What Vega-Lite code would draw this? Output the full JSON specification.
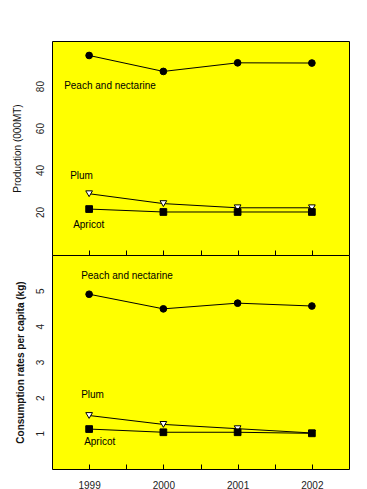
{
  "$schema": "https://vega.github.io/schema/vega-lite/v6.json",
  "autosize": {"type": "pad"},
  "padding": {"left": 11, "top": 40, "right": 18, "bottom": 0},
  "background": "white",
  "spacing": 0,
  "bounds": "flush",
  "datasets": {
    "prod": [
      {"year": 1999, "fruit": "Peach and nectarine", "value": 94.6},
      {"year": 2000, "fruit": "Peach and nectarine", "value": 87.0},
      {"year": 2001, "fruit": "Peach and nectarine", "value": 91.1},
      {"year": 2002, "fruit": "Peach and nectarine", "value": 91.0},
      {"year": 1999, "fruit": "Plum", "value": 28.7},
      {"year": 2000, "fruit": "Plum", "value": 24.0},
      {"year": 2001, "fruit": "Plum", "value": 22.0},
      {"year": 2002, "fruit": "Plum", "value": 22.0},
      {"year": 1999, "fruit": "Apricot", "value": 21.4},
      {"year": 2000, "fruit": "Apricot", "value": 20.0},
      {"year": 2001, "fruit": "Apricot", "value": 20.0},
      {"year": 2002, "fruit": "Apricot", "value": 20.0}
    ],
    "cons": [
      {"year": 1999, "fruit": "Peach and nectarine", "value": 4.9},
      {"year": 2000, "fruit": "Peach and nectarine", "value": 4.49},
      {"year": 2001, "fruit": "Peach and nectarine", "value": 4.65},
      {"year": 2002, "fruit": "Peach and nectarine", "value": 4.57},
      {"year": 1999, "fruit": "Plum", "value": 1.5},
      {"year": 2000, "fruit": "Plum", "value": 1.25},
      {"year": 2001, "fruit": "Plum", "value": 1.13},
      {"year": 2002, "fruit": "Plum", "value": 1.01},
      {"year": 1999, "fruit": "Apricot", "value": 1.12},
      {"year": 2000, "fruit": "Apricot", "value": 1.03},
      {"year": 2001, "fruit": "Apricot", "value": 1.03},
      {"year": 2002, "fruit": "Apricot", "value": 1.0}
    ]
  },
  "config": {
    "font": "Liberation Sans",
    "view": {"fill": "#ffff00", "stroke": "black", "strokeWidth": 1},
    "axis": {"grid": false, "domain": false, "labelFont": "Liberation Sans", "labelFontSize": 10, "labelColor": "#222222", "titleFont": "Liberation Sans", "titleFontSize": 10, "titleColor": "#111111", "tickColor": "black"}
  },
  "vconcat": [
    {
      "width": 297,
      "height": 214,
      "data": {"name": "prod"},
      "encoding": {
        "x": {"field": "year", "type": "quantitative", "scale": {"domain": [1998.5, 2002.5], "nice": false, "zero": false},
          "axis": {"values": [1999, 1999.5, 2000, 2000.5, 2001, 2001.5, 2002], "labels": false, "tickSize": -5, "title": null}},
        "y": {"field": "value", "type": "quantitative", "scale": {"domain": [-0.5, 101.5], "nice": false, "zero": false},
          "axis": {"values": [20, 40, 60, 80], "ticks": false, "labelAngle": -90, "labelPadding": 7, "title": "Production (000MT)", "titleFontWeight": "normal", "titlePadding": 13}}
      },
      "layer": [
        {"mark": {"type": "line", "color": "black", "strokeWidth": 1}, "encoding": {"detail": {"field": "fruit"}}},
        {"mark": {"type": "point", "filled": false, "stroke": "black", "strokeWidth": 1, "opacity": 1, "size": 45},
          "encoding": {
            "shape": {"field": "fruit", "scale": {"domain": ["Peach and nectarine", "Plum", "Apricot"], "range": ["circle", "triangle-down", "square"]}, "legend": null},
            "fill": {"field": "fruit", "scale": {"domain": ["Peach and nectarine", "Plum", "Apricot"], "range": ["black", "white", "black"]}, "legend": null}
          }},
        {"transform": [{"filter": "datum.fruit === 'Peach and nectarine' && datum.year === 1999"}],
          "mark": {"type": "text", "align": "left", "baseline": "middle", "dx": -25, "dy": 31, "fontSize": 10, "color": "black"},
          "encoding": {"text": {"field": "fruit"}}},
        {"transform": [{"filter": "datum.fruit === 'Plum' && datum.year === 1999"}],
          "mark": {"type": "text", "align": "left", "baseline": "middle", "dx": -19, "dy": -18, "fontSize": 10, "color": "black"},
          "encoding": {"text": {"field": "fruit"}}},
        {"transform": [{"filter": "datum.fruit === 'Apricot' && datum.year === 1999"}],
          "mark": {"type": "text", "align": "left", "baseline": "middle", "dx": -16, "dy": 16, "fontSize": 10, "color": "black"},
          "encoding": {"text": {"field": "fruit"}}}
      ]
    },
    {
      "width": 297,
      "height": 214,
      "data": {"name": "cons"},
      "encoding": {
        "x": {"field": "year", "type": "quantitative", "scale": {"domain": [1998.5, 2002.5], "nice": false, "zero": false},
          "axis": {"values": [1999, 1999.5, 2000, 2000.5, 2001, 2001.5, 2002], "labelExpr": "datum.value % 1 === 0 ? datum.value : ''", "tickSize": -5, "labelPadding": 16, "labelFlush": false, "title": null}},
        "y": {"field": "value", "type": "quantitative", "scale": {"domain": [0, 6], "nice": false, "zero": false},
          "axis": {"values": [1, 2, 3, 4, 5], "ticks": false, "labelAngle": -90, "labelPadding": 7, "title": "Consumption rates per capita (kg)", "titleFontWeight": "bold", "titlePadding": 10}}
      },
      "layer": [
        {"mark": {"type": "line", "color": "black", "strokeWidth": 1}, "encoding": {"detail": {"field": "fruit"}}},
        {"mark": {"type": "point", "filled": false, "stroke": "black", "strokeWidth": 1, "opacity": 1, "size": 45},
          "encoding": {
            "shape": {"field": "fruit", "scale": {"domain": ["Peach and nectarine", "Plum", "Apricot"], "range": ["circle", "triangle-down", "square"]}, "legend": null},
            "fill": {"field": "fruit", "scale": {"domain": ["Peach and nectarine", "Plum", "Apricot"], "range": ["black", "white", "black"]}, "legend": null}
          }},
        {"transform": [{"filter": "datum.fruit === 'Peach and nectarine' && datum.year === 1999"}],
          "mark": {"type": "text", "align": "left", "baseline": "middle", "dx": -8, "dy": -18, "fontSize": 10, "color": "black"},
          "encoding": {"text": {"field": "fruit"}}},
        {"transform": [{"filter": "datum.fruit === 'Plum' && datum.year === 1999"}],
          "mark": {"type": "text", "align": "left", "baseline": "middle", "dx": -8, "dy": -21, "fontSize": 10, "color": "black"},
          "encoding": {"text": {"field": "fruit"}}},
        {"transform": [{"filter": "datum.fruit === 'Apricot' && datum.year === 1999"}],
          "mark": {"type": "text", "align": "left", "baseline": "middle", "dx": -5, "dy": 13, "fontSize": 10, "color": "black"},
          "encoding": {"text": {"field": "fruit"}}}
      ]
    }
  ]
}
